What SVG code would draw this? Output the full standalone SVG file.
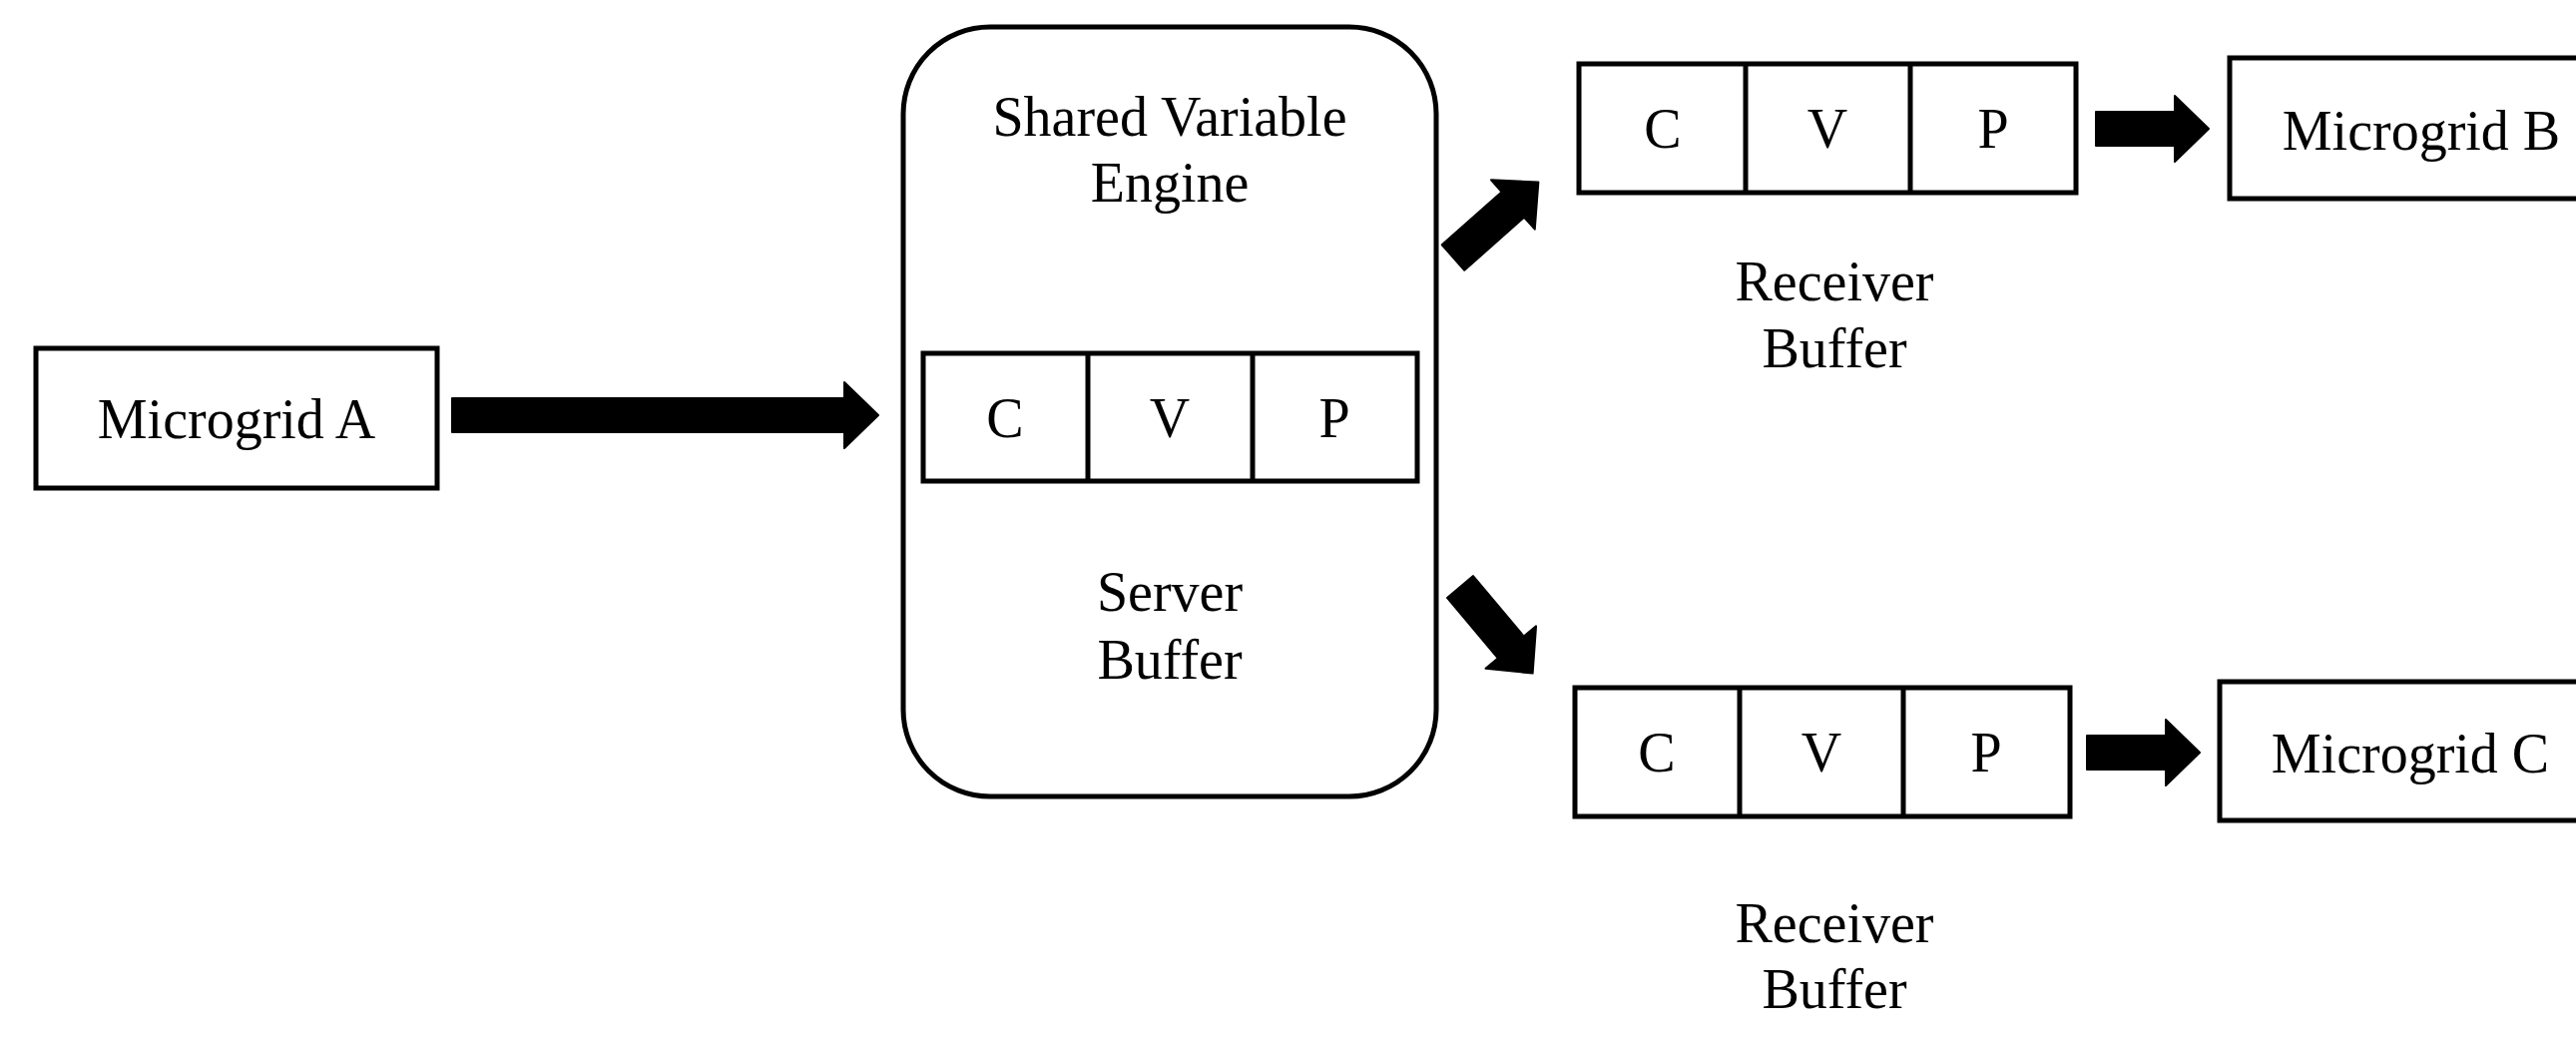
<svg xmlns="http://www.w3.org/2000/svg" width="2581" height="1042" viewBox="0 0 2581 1042">
<style>
.box{fill:#fff;stroke:#000;stroke-width:5}
.div{stroke:#000;stroke-width:5}
.t{font-family:"Liberation Serif","Times New Roman",serif;font-size:56px;fill:#000;text-anchor:middle}
.arr{fill:#000;stroke:#000;stroke-width:2;stroke-linejoin:round}
</style>
<rect width="2581" height="1042" fill="#fff"/>
<g id="microgrid-a">
<rect class="box" x="36" y="349" width="402" height="140"/>
<text class="t" x="237" y="439">Microgrid A</text>
</g>
<g id="shared-variable-engine">
<rect class="box" x="905" y="27" width="534" height="771" rx="87" ry="87"/>
<text class="t" x="1172" y="136">Shared Variable</text>
<text class="t" x="1172" y="202">Engine</text>
<text class="t" x="1172" y="612">Server</text>
<text class="t" x="1172" y="680">Buffer</text>
</g>
<g id="server-buffer">
<rect class="box" x="925" y="354" width="495" height="128"/>
<line class="div" x1="1090" y1="354" x2="1090" y2="482"/>
<line class="div" x1="1255" y1="354" x2="1255" y2="482"/>
<text class="t" x="1007" y="438">C</text>
<text class="t" x="1172" y="438">V</text>
<text class="t" x="1337" y="438">P</text>
</g>
<g id="receiver-buffer-b">
<rect class="box" x="1582" y="64" width="498" height="129"/>
<line class="div" x1="1749" y1="64" x2="1749" y2="193"/>
<line class="div" x1="1914" y1="64" x2="1914" y2="193"/>
<text class="t" x="1666" y="148">C</text>
<text class="t" x="1831" y="148">V</text>
<text class="t" x="1997" y="148">P</text>
<text class="t" x="1838" y="301">Receiver</text>
<text class="t" x="1838" y="368">Buffer</text>
</g>
<g id="receiver-buffer-c">
<rect class="box" x="1578" y="689" width="496" height="129"/>
<line class="div" x1="1743" y1="689" x2="1743" y2="818"/>
<line class="div" x1="1907" y1="689" x2="1907" y2="818"/>
<text class="t" x="1660" y="773">C</text>
<text class="t" x="1825" y="773">V</text>
<text class="t" x="1990" y="773">P</text>
<text class="t" x="1838" y="944">Receiver</text>
<text class="t" x="1838" y="1010">Buffer</text>
</g>
<g id="microgrid-b">
<rect class="box" x="2234" y="58" width="420" height="141"/>
<text class="t" x="2426" y="150">Microgrid B</text>
</g>
<g id="microgrid-c">
<rect class="box" x="2224" y="683" width="420" height="139"/>
<text class="t" x="2415" y="774">Microgrid C</text>
</g>
<g id="connectors">
<path class="arr" transform="translate(453,416)" d="M0,-17 L393,-17 L393,-33 L427,0 L393,33 L393,17 L0,17 Z"/>
<path class="arr" transform="translate(1456,258) rotate(-41.5)" d="M0,-17 L80,-17 L80,-33 L114,0 L80,33 L80,17 L0,17 Z"/>
<path class="arr" transform="translate(1463,588) rotate(50)" d="M0,-17 L79,-17 L79,-33 L113,0 L79,33 L79,17 L0,17 Z"/>
<path class="arr" transform="translate(2100,129)" d="M0,-17 L79,-17 L79,-33 L113,0 L79,33 L79,17 L0,17 Z"/>
<path class="arr" transform="translate(2091,754)" d="M0,-17 L79,-17 L79,-33 L113,0 L79,33 L79,17 L0,17 Z"/>
</g>
</svg>
